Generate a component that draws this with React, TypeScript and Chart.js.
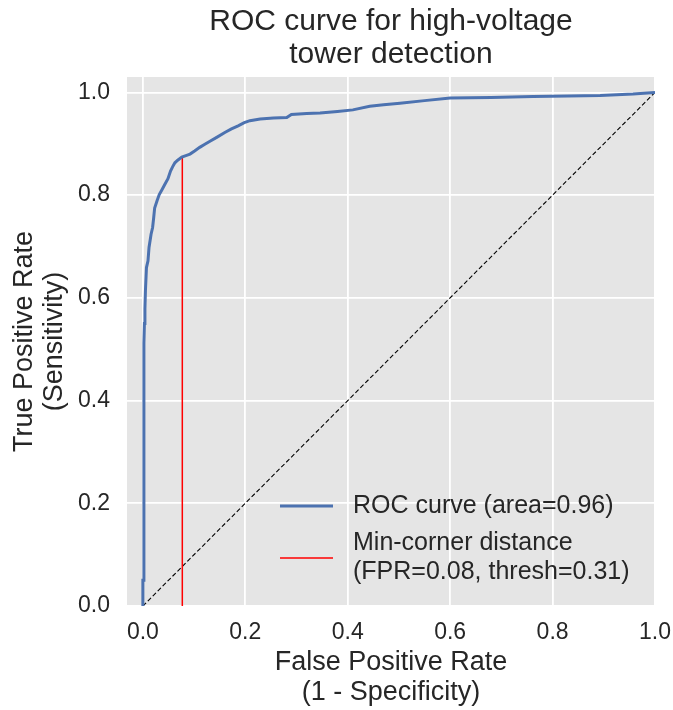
import React, { useEffect, useRef } from "react";
import { Chart, registerables } from "chart.js";

Chart.register(...registerables);

const titleLines = ["ROC curve for high-voltage", "tower detection"];
const xAxisTitle = ["False Positive Rate", "(1 - Specificity)"];
const yAxisTitle = ["True Positive Rate", "(Sensitivity)"];

const rocFpr = [
  0, 0, 0.002, 0.002, 0.002, 0.003, 0.004, 0.005, 0.007, 0.01,
  0.012, 0.016, 0.019, 0.021, 0.023, 0.028, 0.032, 0.037, 0.043, 0.049,
  0.054, 0.058, 0.0625, 0.068, 0.076, 0.084, 0.092, 0.101, 0.111, 0.121,
  0.131, 0.145, 0.16, 0.173, 0.186, 0.198, 0.209, 0.229, 0.255, 0.281,
  0.29, 0.32, 0.346, 0.38, 0.41, 0.443, 0.47, 0.502, 0.55, 0.6,
  0.68, 0.762, 0.83, 0.893, 0.957, 1.0,
];
const rocTpr = [
  0, 0.05, 0.05, 0.44, 0.511, 0.55, 0.579, 0.614, 0.659, 0.672,
  0.698, 0.724, 0.737, 0.755, 0.775, 0.79, 0.801, 0.81, 0.821, 0.832,
  0.847, 0.855, 0.863, 0.868, 0.874, 0.877, 0.88, 0.886, 0.893, 0.899,
  0.905, 0.913, 0.922, 0.929, 0.935, 0.941, 0.945, 0.948, 0.95, 0.951,
  0.957, 0.959, 0.96, 0.963, 0.966, 0.973, 0.976, 0.979, 0.984, 0.989,
  0.99, 0.992, 0.993, 0.994, 0.997, 1.0,
];

const chanceX = [0, 1];
const chanceY = [0, 1];

const minCornerFpr = 0.077;
const minCornerTpr = 0.874;

const rocLabel = "ROC curve (area=0.96)";
const minCornerLabel = ["Min-corner distance", "(FPR=0.08, thresh=0.31)"];

const tickValues = [0, 0.2, 0.4, 0.6, 0.8, 1.0];

const FONT = "'Liberation Sans', Arial, Helvetica, sans-serif";
const TEXT = "#262626";
const BLUE = "#4C72B0";
const RED = "#FF0000";
const BG = "#E5E5E5";

const bgPlugin = {
  id: "plotBg",
  beforeDraw(chart: any) {
    const { ctx, chartArea } = chart;
    ctx.save();
    ctx.fillStyle = BG;
    ctx.fillRect(chartArea.left, chartArea.top, chartArea.right - chartArea.left, chartArea.bottom - chartArea.top);
    ctx.restore();
  },
};

const legendPlugin = {
  id: "customLegend",
  afterDraw(chart: any) {
    const { ctx, chartArea } = chart;
    const x0 = chartArea.right - 375;
    const x1 = x0 + 53;
    const tx = x0 + 73;
    const y1 = chartArea.bottom - 100;
    const y2 = chartArea.bottom - 48;
    ctx.save();
    ctx.lineCap = "butt";
    ctx.strokeStyle = BLUE;
    ctx.lineWidth = 3;
    ctx.beginPath();
    ctx.moveTo(x0, y1);
    ctx.lineTo(x1, y1);
    ctx.stroke();
    ctx.strokeStyle = RED;
    ctx.lineWidth = 1.5;
    ctx.beginPath();
    ctx.moveTo(x0, y2);
    ctx.lineTo(x1, y2);
    ctx.stroke();
    ctx.fillStyle = TEXT;
    ctx.font = `25px ${FONT}`;
    ctx.textBaseline = "middle";
    ctx.textAlign = "left";
    ctx.fillText(rocLabel, tx, y1);
    ctx.fillText(minCornerLabel[0], tx, y2 - 14.5);
    ctx.fillText(minCornerLabel[1], tx, y2 + 14.5);
    ctx.restore();
  },
};

export default function App() {
  const ref = useRef<HTMLCanvasElement | null>(null);

  useEffect(() => {
    if (!ref.current) return;
    const rocData = rocFpr.map((x, i) => ({ x, y: rocTpr[i] }));
    const chanceData = chanceX.map((x, i) => ({ x, y: chanceY[i] }));
    const minData = [
      { x: minCornerFpr, y: 0 },
      { x: minCornerFpr, y: minCornerTpr },
    ];
    const chart = new Chart(ref.current, {
      type: "scatter",
      data: {
        datasets: [
          {
            label: "chance",
            data: chanceData,
            showLine: true,
            borderColor: "#000000",
            borderWidth: 1.1,
            borderDash: [4.5, 2.5],
            pointRadius: 0,
            order: 3,
          },
          {
            label: "min",
            data: minData,
            showLine: true,
            borderColor: RED,
            borderWidth: 1.5,
            pointRadius: 0,
            order: 2,
          },
          {
            label: "roc",
            data: rocData,
            showLine: true,
            borderColor: BLUE,
            borderWidth: 3,
            pointRadius: 0,
            tension: 0,
            order: 1,
          },
        ],
      },
      options: {
        animation: false,
        responsive: false,
        maintainAspectRatio: false,
        layout: { padding: { left: 0, right: 18, top: 0, bottom: 0 } },
        plugins: {
          legend: { display: false },
          tooltip: { enabled: false },
          title: {
            display: true,
            fullSize: false,
            text: titleLines,
            color: TEXT,
            font: { family: FONT, size: 30, weight: "normal", lineHeight: 1.1 },
            padding: { top: 5.5, bottom: 5.5 },
          },
        },
        scales: {
          x: {
            type: "linear",
            min: -0.031,
            max: 1.0,
            afterBuildTicks(scale: any) {
              scale.ticks = tickValues.map((v) => ({ value: v }));
            },
            afterFit(scale: any) {
              scale.height = 104;
              scale.paddingLeft = 0;
              scale.paddingRight = 0;
            },
            ticks: {
              color: TEXT,
              font: { family: FONT, size: 23 },
              padding: 13,
              callback: (v: any) => Number(v).toFixed(1),
              maxRotation: 0,
            },
            grid: { color: "#FFFFFF", lineWidth: 1.8, drawTicks: false },
            border: { display: false },
            title: {
              display: true,
              text: xAxisTitle,
              color: TEXT,
              font: { family: FONT, size: 27, lineHeight: 1.1 },
              padding: { top: 0, bottom: 3 },
            },
          },
          y: {
            type: "linear",
            min: 0,
            max: 1.03,
            afterBuildTicks(scale: any) {
              scale.ticks = tickValues.map((v) => ({ value: v }));
            },
            afterFit(scale: any) {
              scale.width = 127;
              scale.paddingTop = 0;
              scale.paddingBottom = 0;
            },
            ticks: {
              color: TEXT,
              font: { family: FONT, size: 23 },
              padding: 17,
              callback: (v: any) => Number(v).toFixed(1),
            },
            grid: { color: "#FFFFFF", lineWidth: 1.8, drawTicks: false },
            border: { display: false },
            title: {
              display: true,
              text: yAxisTitle,
              color: TEXT,
              font: { family: FONT, size: 27, lineHeight: 1.13 },
              padding: { top: 9, bottom: 0 },
            },
          },
        },
      },
      plugins: [bgPlugin, legendPlugin],
    } as any);
    return () => chart.destroy();
  }, []);

  return (
    <div style={{ position: "fixed", left: 0, top: 0, width: 673, height: 710, background: "#FFFFFF" }}>
      <canvas ref={ref} width={673} height={710} style={{ width: 673, height: 710, display: "block" }} />
    </div>
  );
}
